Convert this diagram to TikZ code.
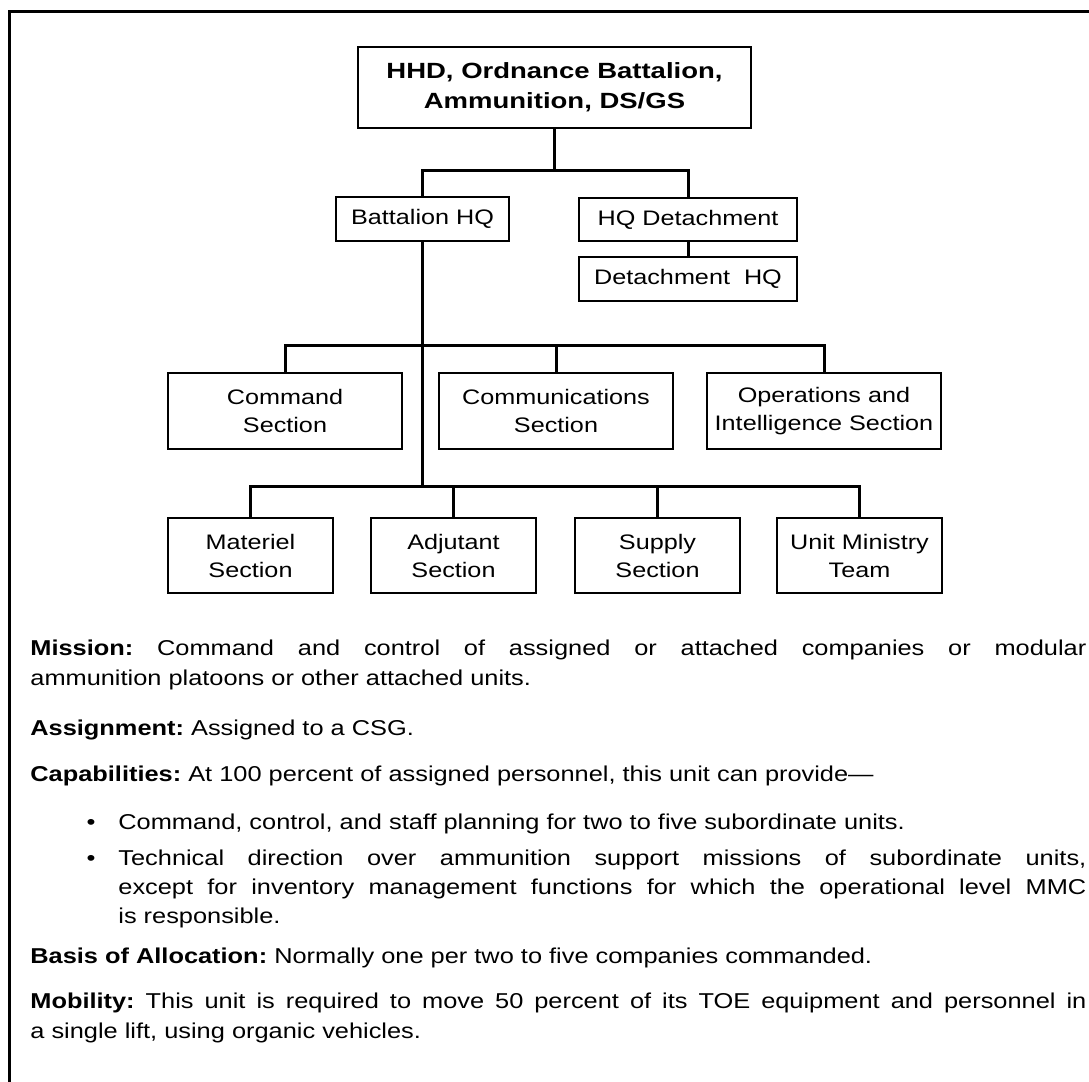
\documentclass[tikz,border=0pt]{standalone}
\usepackage{fontspec}
\setmainfont[FakeStretch=1.18]{Liberation Sans}
\newfontfamily\chartfont[FakeStretch=1.2]{Liberation Sans}
\newfontfamily\titlefont[FakeStretch=1.25]{Liberation Sans}
\newcommand\bodysetup{\fontsize{10.75pt}{15pt}\selectfont\frenchspacing\tolerance 10000 \hbadness 10000 }
\newcommand\bodysetupb{\fontsize{10.75pt}{14.5pt}\selectfont\frenchspacing\tolerance 10000 \hbadness 10000 }
\begin{document}
\begin{tikzpicture}[x=0.5pt,y=-0.5pt,
  box/.style={draw, line width=0.85pt, inner sep=0pt, align=center,
    font=\chartfont\fontsize{10.5pt}{14pt}\selectfont},
  conn/.style={line width=1.5pt},
  body/.style={anchor=base west, inner sep=0pt, text width=528pt, align=justify, font=\bodysetup},
  bodyb/.style={body, text width=484pt},
  dot/.style={anchor=base, inner sep=0pt, font=\bodysetup}]
\useasboundingbox (0,0) rectangle (1089,1082);
\draw[line width=1.5pt] (1089,11.5) -- (9.5,11.5) -- (9.5,1082);
% chart
\node[box, minimum width=196.5pt, minimum height=40.5pt,
  font=\titlefont\bfseries\fontsize{11pt}{15pt}\selectfont] (top) at (554.5,87.5)
  {HHD, Ordnance Battalion,\\Ammunition, DS/GS};
\node[box, minimum width=86.5pt, minimum height=22pt] (bhq) at (422.5,219) {Battalion HQ};
\node[box, minimum width=109pt, minimum height=21.5pt] (hqd) at (688,219.5) {HQ Detachment};
\node[box, minimum width=109pt, minimum height=22pt] (dhq) at (688,279) {Detachment~ HQ};
\node[box, minimum width=117pt, minimum height=38pt] (cmd) at (285,411) {Command\\Section};
\node[box, minimum width=117pt, minimum height=38pt] (comm) at (556,411) {Communications\\Section};
\node[box, minimum width=117pt, minimum height=38pt] (ops) at (824,411) {Operations and\\Intelligence Section};
\node[box, minimum width=82.5pt, minimum height=37.5pt] (mat) at (250.5,555.5) {Materiel\\Section};
\node[box, minimum width=82.5pt, minimum height=37.5pt] (adj) at (453.5,555.5) {Adjutant\\Section};
\node[box, minimum width=82.5pt, minimum height=37.5pt] (sup) at (657.5,555.5) {Supply\\Section};
\node[box, minimum width=82.5pt, minimum height=37.5pt] (umt) at (859.5,555.5) {Unit Ministry\\Team};
\coordinate (j1) at (554.5,170);
\coordinate (j2) at (422.5,345);
\coordinate (j3) at (422.5,486);
\draw[conn] (top.south) -- (j1);
\draw[conn] (bhq.north) |- (j1) -| (hqd.north);
\draw[conn] (hqd.south) -- (dhq.north);
\draw[conn] (bhq.south) -- (j3);
\draw[conn] (cmd.north) |- (j2) -| (ops.north);
\draw[conn] (comm.north) -- (comm.north |- j2);
\draw[conn] (mat.north) |- (j3) -| (umt.north);
\draw[conn] (adj.north) -- (adj.north |- j3);
\draw[conn] (sup.north) -- (sup.north |- j3);
% text
\node[body] (mission) at (30,655) {\textbf{Mission:} Command and control of assigned or attached companies or modular\linebreak ammunition platoons or other attached units.};
\node[body] (assign) at (30,735) {\textbf{Assignment:} Assigned to a CSG.};
\node[body] (capab) at (30,781) {\textbf{Capabilities:} At 100 percent of assigned personnel, this unit can provide—};
\node[dot] (d1) at (91,829) {•};
\node[bodyb] (b1) at (118,829) {Command, control, and staff planning for two to five subordinate units.};
\node[dot] (d2) at (91,865) {•};
\node[bodyb, font=\bodysetupb] (b2) at (118,865) {Technical direction over ammunition support missions of subordinate units,\linebreak except for inventory management functions for which the operational level MMC\linebreak is responsible.};
\node[body] (basis) at (30,963) {\textbf{Basis of Allocation:} Normally one per two to five companies commanded.};
\node[body] (mob) at (30,1008) {\textbf{Mobility:} This unit is required to move 50 percent of its TOE equipment and personnel in\linebreak a single lift, using organic vehicles.};
\end{tikzpicture}
\end{document}
